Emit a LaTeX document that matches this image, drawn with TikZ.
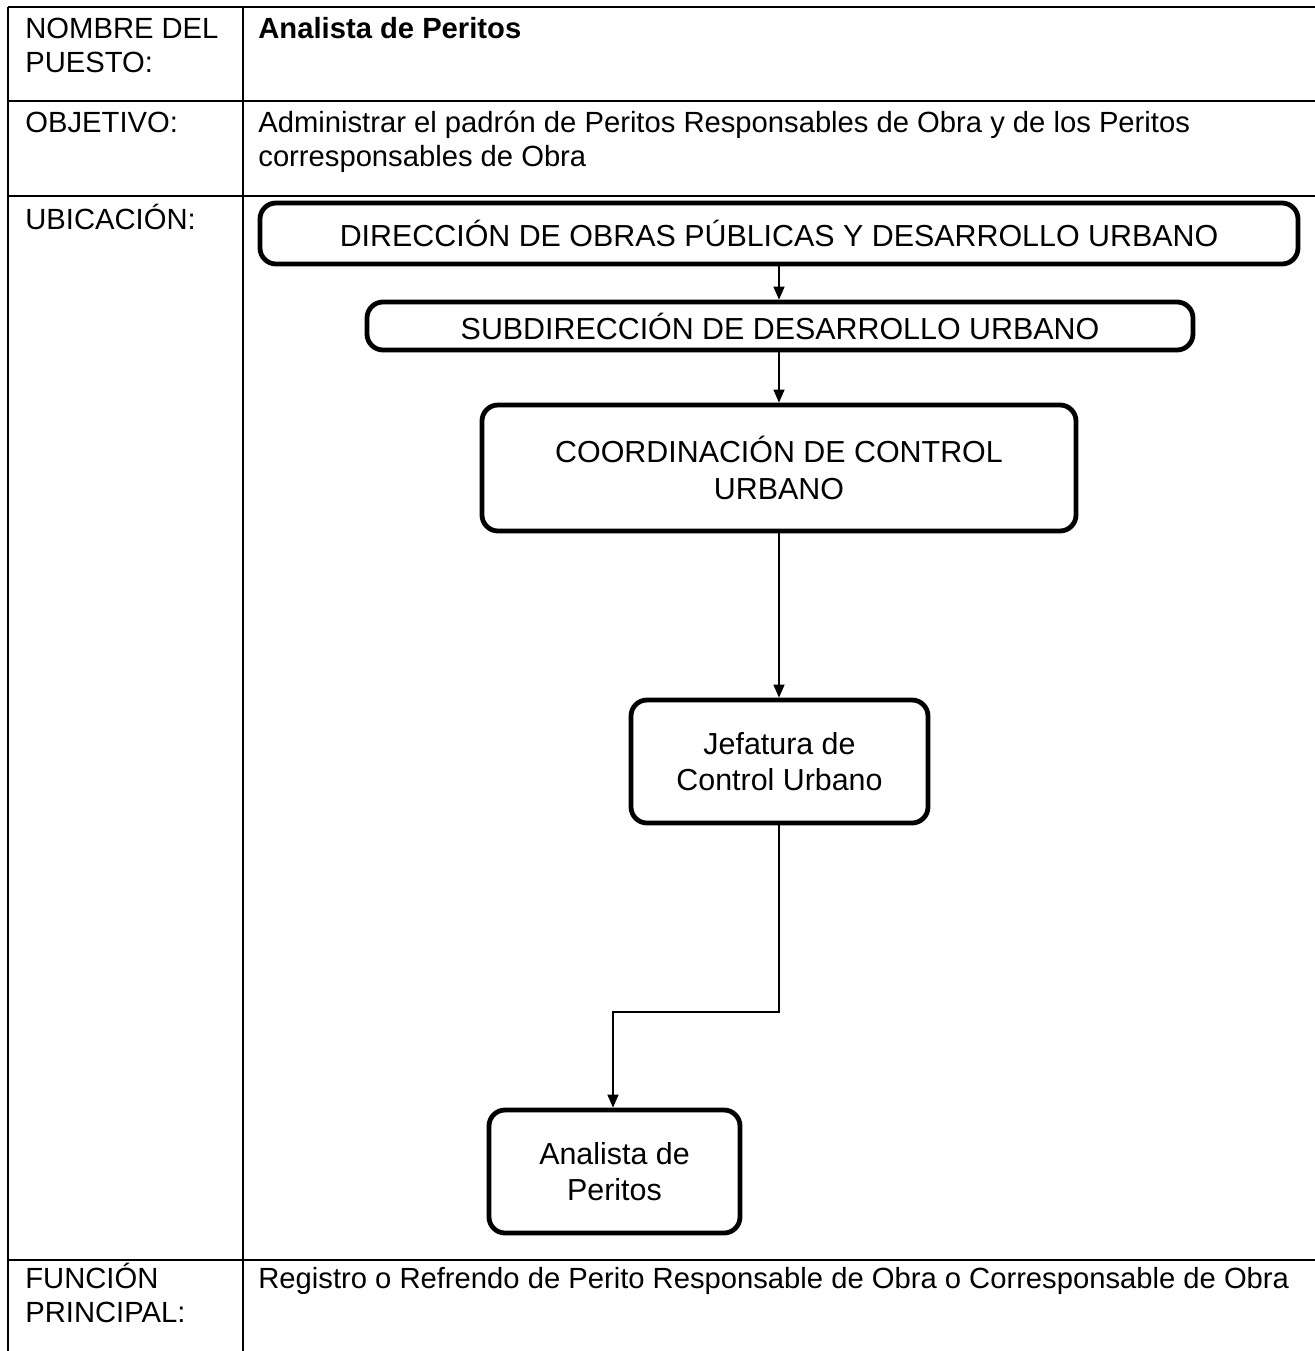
\documentclass[tikz,border=0pt]{standalone}
\usepackage{fontspec}
\setmainfont{Liberation Sans}
\usetikzlibrary{arrows.meta}
\begin{document}
\begin{tikzpicture}[x=0.5pt,y=-0.5pt,
  rule/.style={line width=1pt},
  cell/.style={anchor=base west,inner sep=0pt,font=\fontsize{14.6pt}{17pt}\selectfont},
  orgbox/.style={draw,line width=2.4pt,rounded corners=8pt,inner sep=0pt,align=center,
    font=\fontsize{15.2pt}{18.3pt}\selectfont},
  link/.style={line width=0.75pt,-{Triangle[length=6.5pt,width=5.5pt]}}]
\useasboundingbox (0,0) rectangle (1315,1351);
\fill[white] (0,0) rectangle (1315,1351);

% table rules
\draw[rule] (8,7) -- (1315,7);
\draw[rule] (8,101) -- (1315,101);
\draw[rule] (8,196) -- (1315,196);
\draw[rule] (8,1260) -- (1315,1260);
\draw[rule] (8,7) -- (8,1351);
\draw[rule] (243,7) -- (243,1351);

% left column labels
\node[cell] (l1a) at (25,38) {NOMBRE DEL};
\node[cell] (l1b) at (25,72) {PUESTO:};
\node[cell] (l2) at (25,132) {OBJETIVO:};
\node[cell] (l3) at (25,229) {UBICACIÓN:};
\node[cell] (l4a) at (25,1288) {FUNCIÓN};
\node[cell] (l4b) at (25,1322) {PRINCIPAL:};

% right column contents
\node[cell,font=\fontsize{14.6pt}{17pt}\selectfont\bfseries] (r1) at (258,38) {Analista de Peritos};
\node[cell] (r2a) at (258,132) {Administrar el padrón de Peritos Responsables de Obra y de los Peritos};
\node[cell] (r2b) at (258,166) {corresponsables de Obra};
\node[cell] (r4) at (258,1288) {Registro o Refrendo de Perito Responsable de Obra o Corresponsable de Obra};

% organisation chart
\node[orgbox,minimum width=519pt,minimum height=30.5pt] (b1) at (779,233.5)
  {DIRECCIÓN DE OBRAS PÚBLICAS Y DESARROLLO URBANO};
\node[orgbox,minimum width=413pt,minimum height=24pt] (b2) at (780,326)
  {SUBDIRECCIÓN DE DESARROLLO URBANO};
\node[orgbox,minimum width=297pt,minimum height=63pt] (b3) at (779,468)
  {COORDINACIÓN DE CONTROL\\URBANO};
\node[orgbox,minimum width=148.5pt,minimum height=61.5pt] (b4) at (779.5,761.5)
  {Jefatura de\\Control Urbano};
\node[orgbox,minimum width=125.5pt,minimum height=61.5pt] (b5) at (614.5,1171.5)
  {Analista de\\Peritos};

\coordinate (elb) at (0,1012);
\draw[link] (b1.south -| 779,0) -- (b2.north -| 779,0);
\draw[link] (b2.south -| 779,0) -- (b3.north -| 779,0);
\draw[link] (b3.south -| 779,0) -- (b4.north -| 779,0);
\draw[link] (b4.south -| 779,0) |- (elb -| 613,0) -- (b5.north -| 613,0);
\end{tikzpicture}
\end{document}
